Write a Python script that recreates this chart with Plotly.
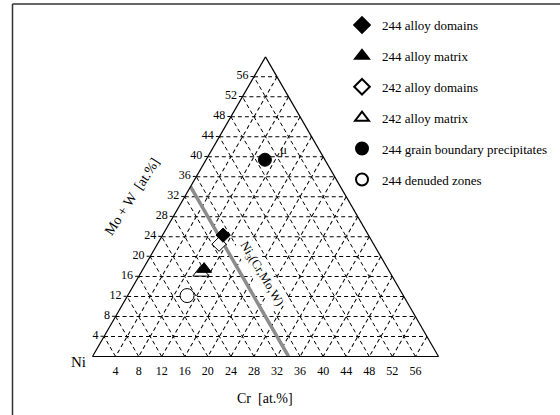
import plotly.graph_objects as go

# ---------------- data ----------------
series_names = ["244 alloy domains", "244 alloy matrix", "242 alloy domains",
                "242 alloy matrix", "244 grain boundary precipitates", "244 denuded zones"]
mow_values = [24.3, 17.5, 22.5, 16.8, 39.4, 12.2]   # Mo+W [at.%]
cr_values = [10.5, 10.6, 10.7, 10.4, 10.2, 10.3]    # Cr [at.%]

ni3x_line_mow = [34, 0]
ni3x_line_cr = [0, 34]

mu_mow = [41.2]
mu_cr = [12.5]

mow_ticks = [4, 8, 12, 16, 20, 24, 28, 32, 36, 40, 44, 48, 52, 56]
cr_ticks = [4, 8, 12, 16, 20, 24, 28, 32, 36, 40, 44, 48, 52, 56]
ni_grid = [44, 48, 52, 56, 60, 64, 68, 72, 76, 80, 84, 88, 92, 96]

# ---------------- layout geometry ----------------
W, H = 560, 415
TRI_LEFT, TRI_W = 92.5, 346.0
TRI_H = TRI_W * 3 ** 0.5 / 2
TRI_BOTTOM = 356.5
yc = TRI_BOTTOM - TRI_H / 2
dom_x = [TRI_LEFT / W, (TRI_LEFT + TRI_W) / W]
dom_y = [1 - yc / H - 0.37, 1 - yc / H + 0.37]
SPAN = 60.0


def tern_to_paper(a, c):
    x = TRI_LEFT + (c + a / 2) * TRI_W / SPAN
    y = TRI_BOTTOM - a * TRI_H / SPAN
    return x / W, 1 - y / H


SERIF = "Liberation Serif"

styles = {
    "244 alloy domains": dict(symbol="diamond", color="black", size=11, line=dict(color="black", width=1)),
    "244 alloy matrix": dict(symbol="triangle-up", color="black", size=13, line=dict(color="black", width=1)),
    "242 alloy domains": dict(symbol="diamond", color="white", size=11, line=dict(color="black", width=1)),
    "242 alloy matrix": dict(symbol="triangle-up", color="white", size=14, line=dict(color="black", width=1)),
    "244 grain boundary precipitates": dict(symbol="circle", color="black", size=13, line=dict(color="black", width=1)),
    "244 denuded zones": dict(symbol="circle", color="white", size=14, line=dict(color="black", width=1)),
}
draw_order = [2, 3, 0, 1, 4, 5]

fig = go.Figure()

# Ni3(Cr,Mo,W) line
fig.add_trace(go.Scatterternary(
    a=ni3x_line_mow, c=ni3x_line_cr,
    b=[100 - a - c for a, c in zip(ni3x_line_mow, ni3x_line_cr)],
    mode="lines", line=dict(color="#8c8c8c", width=3.5),
    showlegend=False, hoverinfo="skip", cliponaxis=False))

for i in draw_order:
    name = series_names[i]
    st = styles[name]
    fig.add_trace(go.Scatterternary(
        a=[mow_values[i]], c=[cr_values[i]], b=[100 - mow_values[i] - cr_values[i]],
        mode="markers", name=name, legendrank=i + 1, legendgroup=name,
        marker=dict(symbol=st["symbol"], color=st["color"], size=st["size"], line=st["line"]),
        cliponaxis=False))

# mu label
fig.add_trace(go.Scatterternary(
    a=mu_mow, c=mu_cr, b=[100 - a - c for a, c in zip(mu_mow, mu_cr)],
    mode="text", text=["μ"], textposition="middle center",
    textfont=dict(family=SERIF, size=13, color="black"),
    showlegend=False, hoverinfo="skip", cliponaxis=False))

# Cr tick labels along the bottom edge (invisible markers set the text offset)
fig.add_trace(go.Scatterternary(
    a=[0] * len(cr_ticks), c=cr_ticks, b=[100 - c for c in cr_ticks],
    mode="markers+text", text=[str(v) for v in cr_ticks], textposition="bottom center",
    marker=dict(size=14, opacity=0),
    textfont=dict(family=SERIF, size=12, color="black"),
    showlegend=False, hoverinfo="skip", cliponaxis=False))

grid_common = dict(showgrid=True, gridcolor="black", gridwidth=0.8, griddash="4px,3px",
                   showline=True, linecolor="black", linewidth=1.2)

fig.update_layout(
    width=W, height=H,
    margin=dict(l=0, r=0, t=0, b=0),
    paper_bgcolor="white",
    font=dict(family=SERIF, color="black"),
    ternary=dict(
        sum=100,
        domain=dict(x=dom_x, y=dom_y),
        bgcolor="white",
        aaxis=dict(min=0, tickmode="array", tickvals=mow_ticks, ticktext=[str(v) for v in mow_ticks],
                   ticks="outside", ticklen=3, tickcolor="black",
                   tickfont=dict(family=SERIF, size=12, color="black"), title=dict(text=""), **grid_common),
        baxis=dict(min=40, tickmode="array", tickvals=ni_grid, showticklabels=False, ticks="",
                   title=dict(text=""), **grid_common),
        caxis=dict(min=0, tickmode="array", tickvals=cr_ticks, showticklabels=False, ticks="",
                   title=dict(text=""), **grid_common),
    ),
    showlegend=True,
    legend=dict(x=342 / W, y=1 - 10 / H, xanchor="left", yanchor="top",
                traceorder="grouped", tracegroupgap=11,
                font=dict(family=SERIF, size=13, color="black"),
                bgcolor="rgba(0,0,0,0)", itemsizing="constant"),
)

ni3_x, ni3_y = tern_to_paper(16.5, 21.0)
mo_x, mo_y = 132.3 / W, 1 - 196.7 / H
annotations = [
    dict(x=ni3_x, y=ni3_y, xref="paper", yref="paper", text="Ni<sub>3</sub>(Cr,Mo,W)",
         textangle=59, showarrow=False, font=dict(family=SERIF, size=12.5, color="black"),
         bgcolor="white", xanchor="center", yanchor="middle"),
    dict(x=mo_x, y=mo_y, xref="paper", yref="paper", text="Mo + W  [at.%]",
         textangle=-57, showarrow=False, font=dict(family=SERIF, size=14, color="black"),
         xanchor="center", yanchor="middle"),
    dict(x=265 / W, y=1 - 398 / H, xref="paper", yref="paper", text="Cr  [at.%]",
         showarrow=False, font=dict(family=SERIF, size=14, color="black"),
         xanchor="center", yanchor="middle"),
    dict(x=78 / W, y=1 - 361.5 / H, xref="paper", yref="paper", text="Ni",
         showarrow=False, font=dict(family=SERIF, size=15, color="black"),
         xanchor="center", yanchor="middle"),
]
fig.update_layout(annotations=annotations)

fig.add_shape(type="line", xref="paper", yref="paper", x0=12.5 / W, x1=12.5 / W, y0=0, y1=1 - 4 / H,
              line=dict(color="#333333", width=1.5))
fig.add_shape(type="line", xref="paper", yref="paper", x0=12.5 / W, x1=1, y0=1 - 4 / H, y1=1 - 4 / H,
              line=dict(color="#333333", width=1.5))

fig.write_html("out.html")
